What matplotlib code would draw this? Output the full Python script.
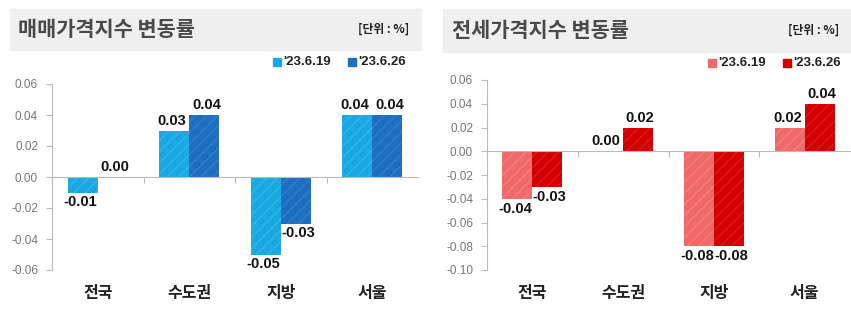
import matplotlib.pyplot as plt
import matplotlib.patches as mpatches
import numpy as np

plt.rcParams['font.family'] = ['Noto Sans CJK KR', 'DejaVu Sans']
plt.rcParams['hatch.linewidth'] = 1.0

regions = ["전국", "수도권", "지방", "서울"]
series_names = ["'23.6.19", "'23.6.26"]

sale_0619 = [-0.01, 0.03, -0.05, 0.04]
sale_0626 = [0.00, 0.04, -0.03, 0.04]
jeonse_0619 = [-0.04, 0.00, -0.08, 0.02]
jeonse_0626 = [-0.03, 0.02, -0.08, 0.04]

W, H = 851, 324
fig = plt.figure(figsize=(W / 100, H / 100), dpi=100)
fig.patch.set_facecolor('white')

NUM_FONT = ['Liberation Sans', 'DejaVu Sans']


def px_axes(x0, x1, ytop, ybot):
    return fig.add_axes([x0 / W, (H - ybot) / H, (x1 - x0) / W, (ybot - ytop) / H])


def header(x0, x1, y0, y1, title, tx):
    fig.patches.append(mpatches.Rectangle((x0 / W, 1 - y1 / H), (x1 - x0) / W, (y1 - y0) / H,
                                          transform=fig.transFigure, color='#f0f0f0', zorder=0))
    fig.text(tx / W, 1 - (y0 + y1) / 2 / H, title, fontsize=15, fontweight='bold',
             color='#4a4a4a', va='center', ha='left')
    fig.text((x1 - 12) / W, 1 - (y0 + y1) / 2 / H, "[단위 : %]", fontsize=8.5,
             fontweight='bold', color='#222222', va='center', ha='right')


def legend(xs, y, colors):
    for (sx, tx), c, name in zip(xs, colors, series_names):
        fig.patches.append(mpatches.Rectangle((sx / W, 1 - (y + 4) / H), 8 / W, 8 / H,
                                              transform=fig.transFigure, color=c))
        fig.text(tx / W, 1 - y / H, name, fontsize=9.5, fontweight='bold',
                 color='#222222', va='center', ha='left', family=NUM_FONT)


def panel(ax, v1, v2, c1, c2, h1, h2, ylim, yticks):
    x = np.arange(len(regions))
    w = 0.33
    b1 = ax.bar(x - w / 2, v1, w, color=c1, edgecolor=h1, hatch='///', linewidth=0)
    b2 = ax.bar(x + w / 2, v2, w, color=c2, edgecolor=h2, hatch='///', linewidth=0)
    for bars, vals, dx in ((b1, v1, -1.5), (b2, v2, 1.5)):
        for b, v in zip(bars, vals):
            cx = b.get_x() + b.get_width() / 2
            off, va = ((dx, -2), 'top') if v < 0 else ((dx, 2), 'bottom')
            ax.annotate(f"{v:.2f}", (cx, v), xytext=off, textcoords='offset points',
                        ha='center', va=va, fontsize=10.5, fontweight='bold',
                        color='#111111', family=NUM_FONT)
    ax.set_xlim(-0.5, len(regions) - 0.5)
    ax.set_ylim(*ylim)
    ax.set_yticks(yticks)
    ax.set_yticklabels([f"{t:.2f}" for t in yticks], color='#777777', fontsize=8.5,
                       family=NUM_FONT)
    ax.tick_params(axis='y', length=4, color='#bbbbbb', pad=6)
    ax.set_xticks(np.arange(len(regions) - 1) + 0.5)
    ax.set_xticklabels([])
    ax.tick_params(axis='x', length=4, color='#bbbbbb', direction='out')
    for s in ('top', 'right'):
        ax.spines[s].set_visible(False)
    ax.spines['bottom'].set_position(('data', 0))
    ax.spines['bottom'].set_color('#bbbbbb')
    ax.spines['left'].set_color('#bbbbbb')
    ax.set_facecolor('none')
    for i, r in enumerate(regions):
        ax.text(i, -0.08, r, transform=ax.get_xaxis_transform(), ha='center', va='top',
                fontsize=11.5, fontweight='bold', color='#222222')


# left: sale price
header(10, 421, 9, 50, "매매가격지수 변동률", 18)
legend([(273, 283), (348, 358)], 62, ['#1aa9e3', '#1e6fc2'])
axL = px_axes(52, 418, 84, 270)
panel(axL, sale_0619, sale_0626, '#1aa9e3', '#1e6fc2', '#33b3e6', '#2f7bc8',
      (-0.06, 0.06), [-0.06, -0.04, -0.02, 0.00, 0.02, 0.04, 0.06])

# right: jeonse
header(443, 851, 9, 52, "전세가격지수 변동률", 452)
legend([(708, 718), (783, 793)], 63, ['#f06a6a', '#d40000'])
axR = px_axes(487, 850, 80, 270)
panel(axR, jeonse_0619, jeonse_0626, '#f06a6a', '#d40000', '#f37c7c', '#dc1818',
      (-0.10, 0.06), [-0.10, -0.08, -0.06, -0.04, -0.02, 0.00, 0.02, 0.04, 0.06])

fig.savefig('out.png', dpi=100)
